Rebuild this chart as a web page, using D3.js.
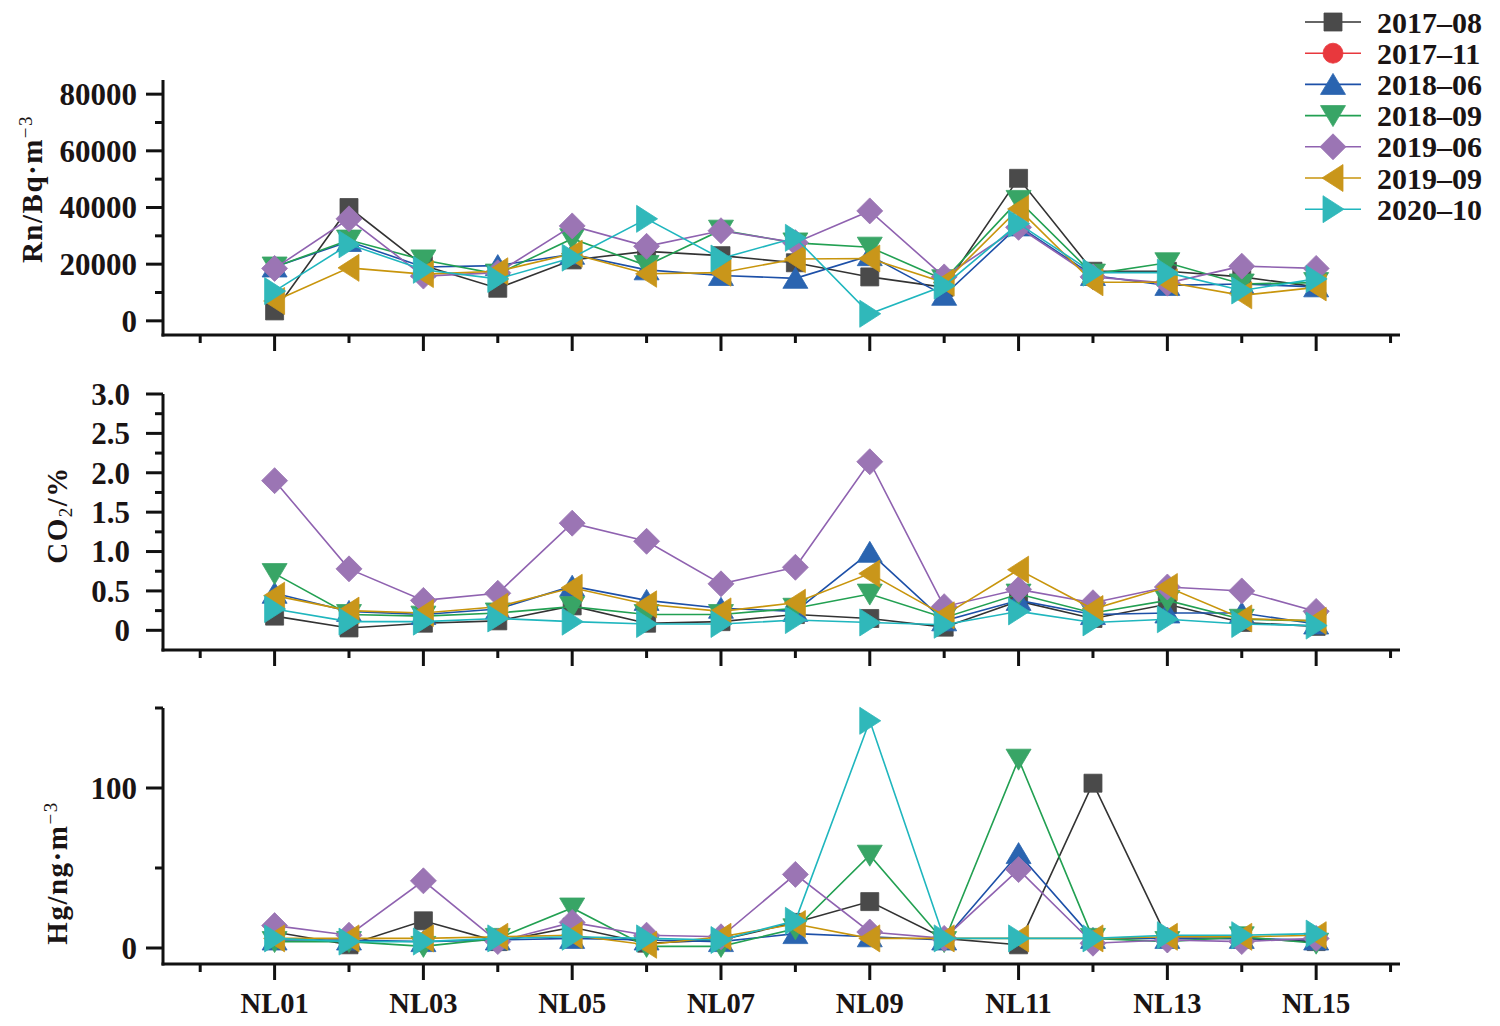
<!DOCTYPE html>
<html><head><meta charset="utf-8">
<script src="https://cdn.jsdelivr.net/npm/d3@7/dist/d3.min.js"></script>
<style>
html,body{margin:0;padding:0;background:#fff;}
svg{display:block;}
text{font-family:"Liberation Serif","Times New Roman",serif;font-weight:bold;fill:#1a1414;}
</style></head>
<body>
<svg id="chart" width="1500" height="1026"></svg>
<script>
// ---------- data ----------
const stations = ["NL01","NL02","NL03","NL04","NL05","NL06","NL07","NL08","NL09","NL10","NL11","NL12","NL13","NL14","NL15"];
const seriesNames = ["2017–08","2017–11","2018–06","2018–09","2019–06","2019–09","2020–10"];

// Rn (Bq·m-3)
const rn_2017_08 = [3500,40000,19500,11500,21500,24500,23000,20500,15500,11800,50300,17500,17500,15500,12000];
const rn_2017_11 = [];
const rn_2018_06 = [19000,28000,19000,19500,23500,18000,16000,15000,23000,9000,33500,16000,12500,13000,12000];
const rn_2018_09 = [19000,28500,21500,16500,29000,19500,32000,27500,26000,14500,42500,16500,20500,13000,13500];
const rn_2019_06 = [18500,36000,15800,17000,33500,26300,31800,27600,38800,15500,33000,15500,13300,19300,18500];
const rn_2019_09 = [7000,18700,16500,17500,23700,16600,17000,21800,22000,13500,39500,13600,13600,9000,11800];
const rn_2020_10 = [10500,27000,18000,14800,22300,36000,22000,29300,2500,12400,34300,17000,17000,10700,14800];

// CO2 (%)
const co2_2017_08 = [0.18,0.03,0.09,0.12,0.31,0.09,0.11,0.20,0.15,0.04,0.37,0.15,0.33,0.10,0.05];
const co2_2017_11 = [];
const co2_2018_06 = [0.47,0.24,0.20,0.27,0.56,0.38,0.28,0.24,0.99,0.12,0.38,0.20,0.22,0.22,0.08];
const co2_2018_09 = [0.72,0.20,0.18,0.22,0.30,0.20,0.20,0.28,0.46,0.16,0.46,0.22,0.38,0.14,0.12];
const co2_2019_06 = [1.90,0.78,0.38,0.47,1.36,1.13,0.59,0.80,2.14,0.30,0.52,0.35,0.55,0.50,0.24];
const co2_2019_09 = [0.44,0.25,0.22,0.30,0.54,0.33,0.24,0.35,0.72,0.19,0.77,0.27,0.55,0.15,0.12];
const co2_2020_10 = [0.27,0.11,0.11,0.15,0.11,0.08,0.08,0.13,0.10,0.07,0.24,0.10,0.14,0.08,0.06];

// Hg (ng·m-3)
const hg_2017_08 = [10,2,17,4,13,3,5,16,29,6,2,103,6,6,4];
const hg_2017_11 = [];
const hg_2018_06 = [5,5,4,5,6,5,4,9,7,5,59,6,6,6,5];
const hg_2018_09 = [4,4,1,6,25,1,1,12,58,4,118,6,4,7,3];
const hg_2019_06 = [14,8,42,4,16,8,7,46,10,6,49,3,5,4,6];
const hg_2019_09 = [6,6,6,7,8,2,7,15,6,6,6,6,7,7,8];
const hg_2020_10 = [6,4,4,6,7,6,5,17,142,6,6,6,8,8,9];

// tick values
const rnTicks = [0,20000,40000,60000,80000];
const rnMinor = [10000,30000,50000,70000];
const co2Ticks = [0,0.5,1.0,1.5,2.0,2.5,3.0];
const co2Labels = ["0","0.5","1.0","1.5","2.0","2.5","3.0"];
const co2Minor = [0.25,0.75,1.25,1.75,2.25,2.75];
const hgTicks = [0,100];
const hgMinor = [50,150];

// ---------- styles ----------
const fills  = ["#4a4a4a","#e8383d","#2a64b0","#38a566","#9b75b4","#c9961a","#30b8ba"];
const lines  = ["#333333","#e8383d","#1d50a8","#22a052","#8f62b0","#c8950c","#1fb6be"];
const shapes = ["square","circle","up","down","diamond","left","right"];

function shapePath(s){
  switch(s){
    case "square": return "M-9,-9h18v18h-18Z";
    case "circle": return "M10,0A10,10 0 1,1 -10,0A10,10 0 1,1 10,0Z";
    case "up": return "M0,-11L12.5,10L-12.5,10Z";
    case "down": return "M0,11L12.5,-10L-12.5,-10Z";
    case "diamond": return "M0,-13L13,0L0,13L-13,0Z";
    case "left": return "M-11,0L10,-13.5L10,13.5Z";
    case "right": return "M11,0L-10,-13.5L-10,13.5Z";
  }
}

const svg = d3.select("#chart");
const x = d3.scaleLinear().domain([-0.5,16.1]).range([163,1398]);
const xTickIdx = d3.range(0,17);

const panels = [
  {data:[rn_2017_08,rn_2017_11,rn_2018_06,rn_2018_09,rn_2019_06,rn_2019_09,rn_2020_10],
   y:d3.scaleLinear().domain([-5000,85000]).range([335,80]), ticks:rnTicks, labels:rnTicks.map(String), minor:rnMinor, labelX:137, xLabels:false},
  {data:[co2_2017_08,co2_2017_11,co2_2018_06,co2_2018_09,co2_2019_06,co2_2019_09,co2_2020_10],
   y:d3.scaleLinear().domain([-0.25,3.0]).range([650,394]), ticks:co2Ticks, labels:co2Labels, minor:co2Minor, labelX:130, xLabels:false},
  {data:[hg_2017_08,hg_2017_11,hg_2018_06,hg_2018_09,hg_2019_06,hg_2019_09,hg_2020_10],
   y:d3.scaleLinear().domain([-10,150]).range([964,708]), ticks:hgTicks, labels:hgTicks.map(String), minor:hgMinor, labelX:137, xLabels:true}
];

panels.forEach(p=>{
  const g = svg.append("g");
  const [y0,y1] = p.y.range(); // bottom, top
  g.append("line").attr("x1",163).attr("x2",163).attr("y1",y1).attr("y2",y0+1.5).attr("stroke","#111").attr("stroke-width",3);
  g.append("line").attr("x1",161.5).attr("x2",1400).attr("y1",y0).attr("y2",y0).attr("stroke","#111").attr("stroke-width",3);
  p.ticks.forEach((t,i)=>{
    const yy = p.y(t);
    g.append("line").attr("x1",146).attr("x2",163).attr("y1",yy).attr("y2",yy).attr("stroke","#111").attr("stroke-width",3);
    g.append("text").attr("x",p.labelX).attr("y",yy).attr("dy","0.35em").attr("text-anchor","end")
      .attr("font-size",31).text(p.labels[i]);
  });
  p.minor.forEach(t=>{
    const yy = p.y(t);
    g.append("line").attr("x1",155).attr("x2",163).attr("y1",yy).attr("y2",yy).attr("stroke","#111").attr("stroke-width",3);
  });
  xTickIdx.forEach(i=>{
    const major = i%2===1;
    g.append("line").attr("x1",x(i)).attr("x2",x(i)).attr("y1",y0).attr("y2",y0+(major?16:8))
      .attr("stroke","#111").attr("stroke-width",3);
    if(p.xLabels && major && i>=1 && i<=stations.length){
      g.append("text").attr("x",x(i)).attr("y",1013).attr("text-anchor","middle").attr("font-size",28.5).text(stations[i-1]);
    }
  });
  p.data.forEach((arr,si)=>{
    const pts = arr.map((v,i)=>({i:i+1,v})).filter(d=>d.v!=null);
    if(!pts.length) return;
    const line = d3.line().x(d=>x(d.i)).y(d=>p.y(d.v));
    g.append("path").attr("d",line(pts)).attr("fill","none").attr("stroke",lines[si]).attr("stroke-width",1.6);
    g.selectAll(null).data(pts).enter().append("path")
      .attr("d",shapePath(shapes[si]))
      .attr("transform",d=>`translate(${x(d.i)},${p.y(d.v)})`)
      .attr("fill",fills[si]).attr("stroke",fills[si]).attr("stroke-width",0.8);
  });
});

function yTitle(cx,cy,parts){
  const t = svg.append("text").attr("transform",`translate(${cx},${cy}) rotate(-90)`)
    .attr("text-anchor","middle").attr("font-size",29).attr("letter-spacing",1.5);
  parts.forEach(pt=>{
    const ts = t.append("tspan").text(pt.t);
    if(pt.sup){ ts.attr("font-size",19).attr("baseline-shift","55%").attr("font-weight","normal"); }
    if(pt.sub){ ts.attr("font-size",19).attr("baseline-shift","-25%").attr("font-weight","normal"); }
  });
}
yTitle(42,189,[{t:"Rn/Bq·m"},{t:"−3",sup:true}]);
yTitle(67,515,[{t:"CO"},{t:"2",sub:true},{t:"/%"}]);
yTitle(67,873,[{t:"Hg/ng·m"},{t:"−3",sup:true}]);

seriesNames.forEach((name,si)=>{
  const cy = 22 + si*31.2;
  const lg = svg.append("g");
  lg.append("line").attr("x1",1305).attr("x2",1361).attr("y1",cy).attr("y2",cy).attr("stroke",lines[si]).attr("stroke-width",1.6);
  lg.append("path").attr("d",shapePath(shapes[si])).attr("transform",`translate(1333,${cy})`)
    .attr("fill",fills[si]).attr("stroke",fills[si]).attr("stroke-width",0.8);
  lg.append("text").attr("x",1377).attr("y",cy).attr("dy","0.35em").attr("font-size",30).text(name);
});
</script>
</body></html>
